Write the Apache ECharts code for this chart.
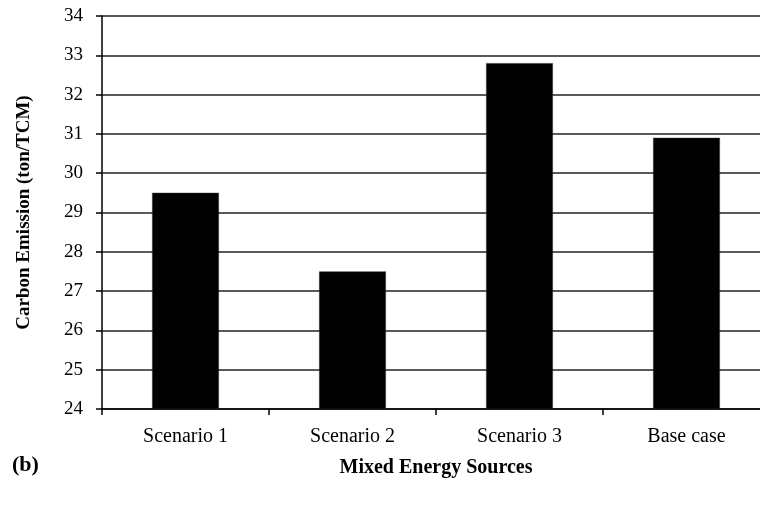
<!DOCTYPE html>
<html>
<head>
<meta charset="utf-8">
<script src="https://cdn.jsdelivr.net/npm/echarts@6/dist/echarts.min.js"></script>
<style>
  html, body { margin: 0; padding: 0; background: #fff; }
  #chart { width: 760px; height: 506px; }
</style>
</head>
<body>
<div id="chart"></div>
<script>
// Carbon emission per mixed energy source scenario
const categories = ['Scenario 1', 'Scenario 2', 'Scenario 3', 'Base case'];
const emissions = [29.5, 27.5, 32.8, 30.9];
const yTicks = { min: 24, max: 34, interval: 1 };

const serif = '"Liberation Serif", "DejaVu Serif", serif';

const chart = echarts.init(document.getElementById('chart'));
chart.setOption({
  animation: false,
  backgroundColor: '#ffffff',
  textStyle: { fontFamily: serif },
  // plot area runs slightly past the right edge of the canvas
  grid: { left: 102, top: 16, width: 668, height: 393, containLabel: false, outerBoundsMode: 'none' },
  graphic: [{
    type: 'text',
    left: 12,
    top: 454,
    style: { text: '(b)', font: 'bold 22px ' + serif, fill: '#000' }
  }],
  xAxis: {
    type: 'category',
    data: categories,
    name: 'Mixed Energy Sources',
    nameLocation: 'middle',
    nameGap: 49,
    nameTextStyle: { fontFamily: serif, fontWeight: 'bold', fontSize: 20, color: '#000' },
    axisLine: { lineStyle: { color: '#000', width: 1.5 } },
    axisTick: { show: true, length: 6, lineStyle: { color: '#000', width: 1.5 } },
    axisLabel: { fontFamily: serif, fontSize: 20, color: '#000', margin: 18 },
    splitLine: { show: false }
  },
  yAxis: {
    type: 'value',
    min: yTicks.min,
    max: yTicks.max,
    interval: yTicks.interval,
    name: 'Carbon Emission (ton/TCM)',
    nameLocation: 'middle',
    nameRotate: 90,
    nameGap: 68,
    nameTextStyle: { fontFamily: serif, fontWeight: 'bold', fontSize: 19, color: '#000' },
    axisLine: { show: true, lineStyle: { color: '#000', width: 1.5 } },
    axisTick: { show: true, length: 6, lineStyle: { color: '#000', width: 1.5 } },
    axisLabel: { fontFamily: serif, fontSize: 19, color: '#000', margin: 19 },
    splitLine: { show: true, lineStyle: { color: '#222', width: 1.5 } }
  },
  series: [{
    type: 'bar',
    data: emissions,
    barWidth: '40%',
    itemStyle: { color: '#000', borderColor: '#333', borderWidth: 0.5 }
  }]
});
</script>
</body>
</html>
